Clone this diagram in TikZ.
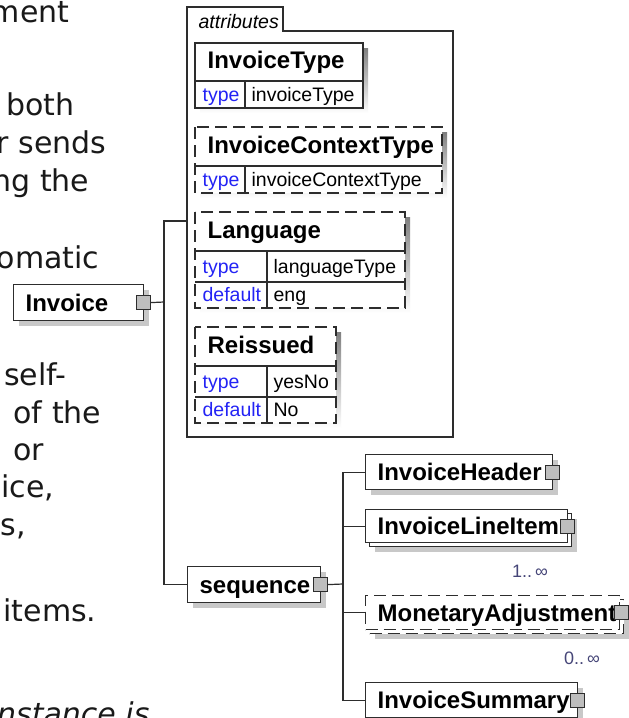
\documentclass[tikz,border=0pt]{standalone}
\usepackage{fontspec}
\setmainfont{Liberation Sans}
\newfontfamily\pagefont{DejaVu Sans}
\usetikzlibrary{shadows}

\definecolor{edge}{RGB}{45,45,45}
\definecolor{shade}{RGB}{200,200,200}
\definecolor{plusgray}{RGB}{190,190,190}
\definecolor{keyblue}{RGB}{35,35,245}
\definecolor{occurs}{RGB}{70,70,120}
\definecolor{pagetext}{RGB}{25,25,25}

\begin{document}
\begin{tikzpicture}[x=1pt,y=-1pt,line width=1.2pt,draw=edge,
    elementbox/.style={draw=edge,fill=white,anchor=north west,inner xsep=12pt,inner ysep=0pt,align=left,
      font=\fontsize{24}{24}\selectfont\bfseries,text height=17pt,text depth=0pt},
    element/.style={elementbox,drop shadow={shadow xshift=5pt,shadow yshift=-5pt,fill=shade,opacity=1}},
    optional/.style={dash pattern=on 12pt off 6pt},
    plus/.style={draw=edge,fill=plusgray,minimum size=14pt,inner sep=0pt,line width=1pt},
    key/.style={anchor=base west,font=\fontsize{19.5}{20}\selectfont,text=keyblue,inner sep=0pt},
    val/.style={anchor=base west,font=\fontsize{19.5}{20}\selectfont,inner sep=0pt},
    attr/.style={anchor=base west,font=\fontsize{24}{24}\selectfont\bfseries,inner sep=0pt},
    occ/.style={font=\fontsize{18}{18}\selectfont,text=occurs,inner sep=0pt},
    page/.style={anchor=base east,font=\fontsize{30}{30}\pagefont,text=pagetext,inner sep=0pt}]
  \useasboundingbox (0,0) rectangle (629,718);
  \clip (0,0) rectangle (629,718);
  \fill[white] (0,0) rectangle (629,718);

  % text of the page behind the picture
  \foreach \words/\xr/\yb [count=\i] in {ment/70/22, both/75/115, r sends/107/153, ng the/90/191,
      omatic/100/268, self-/67/385, items./97/621}
    \node[page] (line\i) at (\xr,\yb) {\words};
  \node[page,anchor=base west] (line8) at (13,423) {of the};
  \node[page,anchor=base west] (line9) at (13,460) {or};
  \node[page,anchor=base west] (line10) at (1,497) {ice,};
  \node[page,anchor=base west] (line11) at (0,535) {s,};
  \node[page,font=\fontsize{30}{30}\pagefont\itshape] (line12) at (150,724) {instance is};

  % root element
  \node[element,minimum height=36pt,text width=106pt] (invoice) at (13,284) {Invoice};
  \node[plus] (invoiceplus) at ([xshift=-1pt]invoice.east) {};

  % attributes group
  \draw (187,437) -- (187,7) -- (283,7) -- (283,31) -- (453,31) -- (453,437) -- cycle;
  \node[anchor=base west,font=\fontsize{19.5}{20}\selectfont\itshape,inner sep=0pt] (attrtitle) at (198,28) {attributes};
  \coordinate (attrs) at (187,221);

  \fill[shade] (200,48) rectangle (368,113);
  \draw[fill=white] (195,43) rectangle (363,108);
  \draw (195,81) -- (363,81) (245,81) -- (245,108);
  \node[attr] (invtype) at (207,68) {InvoiceType};
  \node[key] (invtypekey) at (202,101) {type};
  \node[val] (invtypeval) at (251,101) {invoiceType};

  \fill[shade] (200,132) rectangle (447,198);
  \draw[fill=white,optional] (195,127) rectangle (442,193);
  \draw (195,166) -- (442,166) (245,166) -- (245,193);
  \node[attr] (ctxtype) at (207,153) {InvoiceContextType};
  \node[key] (ctxtypekey) at (202,186) {type};
  \node[val] (ctxtypeval) at (251,186) {invoiceContextType};

  \fill[shade] (200,217) rectangle (410,313);
  \draw[fill=white,optional] (195,212) rectangle (405,308);
  \draw (195,251) -- (405,251) (195,282) -- (405,282) (267,251) -- (267,308);
  \node[attr] (lang) at (207,238) {Language};
  \node[key] (langkey) at (202,273) {type};
  \node[val] (langval) at (273,273) {languageType};
  \node[key] (langdefkey) at (202,301.5) {default};
  \node[val] (langdefval) at (273,301.5) {eng};

  \fill[shade] (200,332) rectangle (341,428);
  \draw[fill=white,optional] (195,327) rectangle (336,423);
  \draw (195,366) -- (336,366) (195,397) -- (336,397) (267,366) -- (267,423);
  \node[attr] (reiss) at (207,353) {Reissued};
  \node[key] (reisskey) at (202,388) {type};
  \node[val] (reissval) at (273,388) {yesNo};
  \node[key] (reissdefkey) at (202,416.5) {default};
  \node[val] (reissdefval) at (273,416.5) {No};

  % sequence and its children
  \node[element,minimum height=36pt,text width=109pt] (seq) at (187,566) {sequence};
  \node[plus] (seqplus) at ([xshift=-1pt]seq.east) {};

  \node[element,minimum height=35pt,text width=163pt] (header) at (365,454) {InvoiceHeader};
  \node[plus] (headerplus) at ([xshift=-1pt]header.east) {};

  \node[element,minimum height=33pt,text width=178pt] (lineitemback) at (369,513) {};
  \node[elementbox,minimum height=33pt,text width=178pt] (lineitem) at (365,509) {InvoiceLineItem};
  \node[plus] (lineitemplus) at ([xshift=-1pt]lineitem.east) {};
  \node[occ] (lineitemocc) at (530,571) {1..\,∞};

  \node[element,optional,minimum height=34pt,text width=230pt] (monetaryback) at (369,599) {};
  \node[elementbox,optional,minimum height=34pt,text width=230pt] (monetary) at (365,595) {MonetaryAdjustment};
  \node[plus] (monetaryplus) at ([xshift=1pt]monetary.east) {};
  \node[occ] (monetaryocc) at (582,658) {0..\,∞};

  \node[element,minimum height=35pt,text width=188pt] (summary) at (365,682) {InvoiceSummary};
  \node[plus] (summaryplus) at ([xshift=-1pt]summary.east) {};

  % connectors
  \coordinate (trunk) at (164,302);
  \coordinate (fork) at (343,584);
  \draw (invoiceplus.east) -- (trunk);
  \draw (attrs) -| (trunk) |- (seq.west);
  \draw (seqplus.east) -- (fork);
  \foreach \kid in {header,lineitem,monetary,summary}
    \draw (fork) |- (\kid.west);
\end{tikzpicture}
\end{document}
